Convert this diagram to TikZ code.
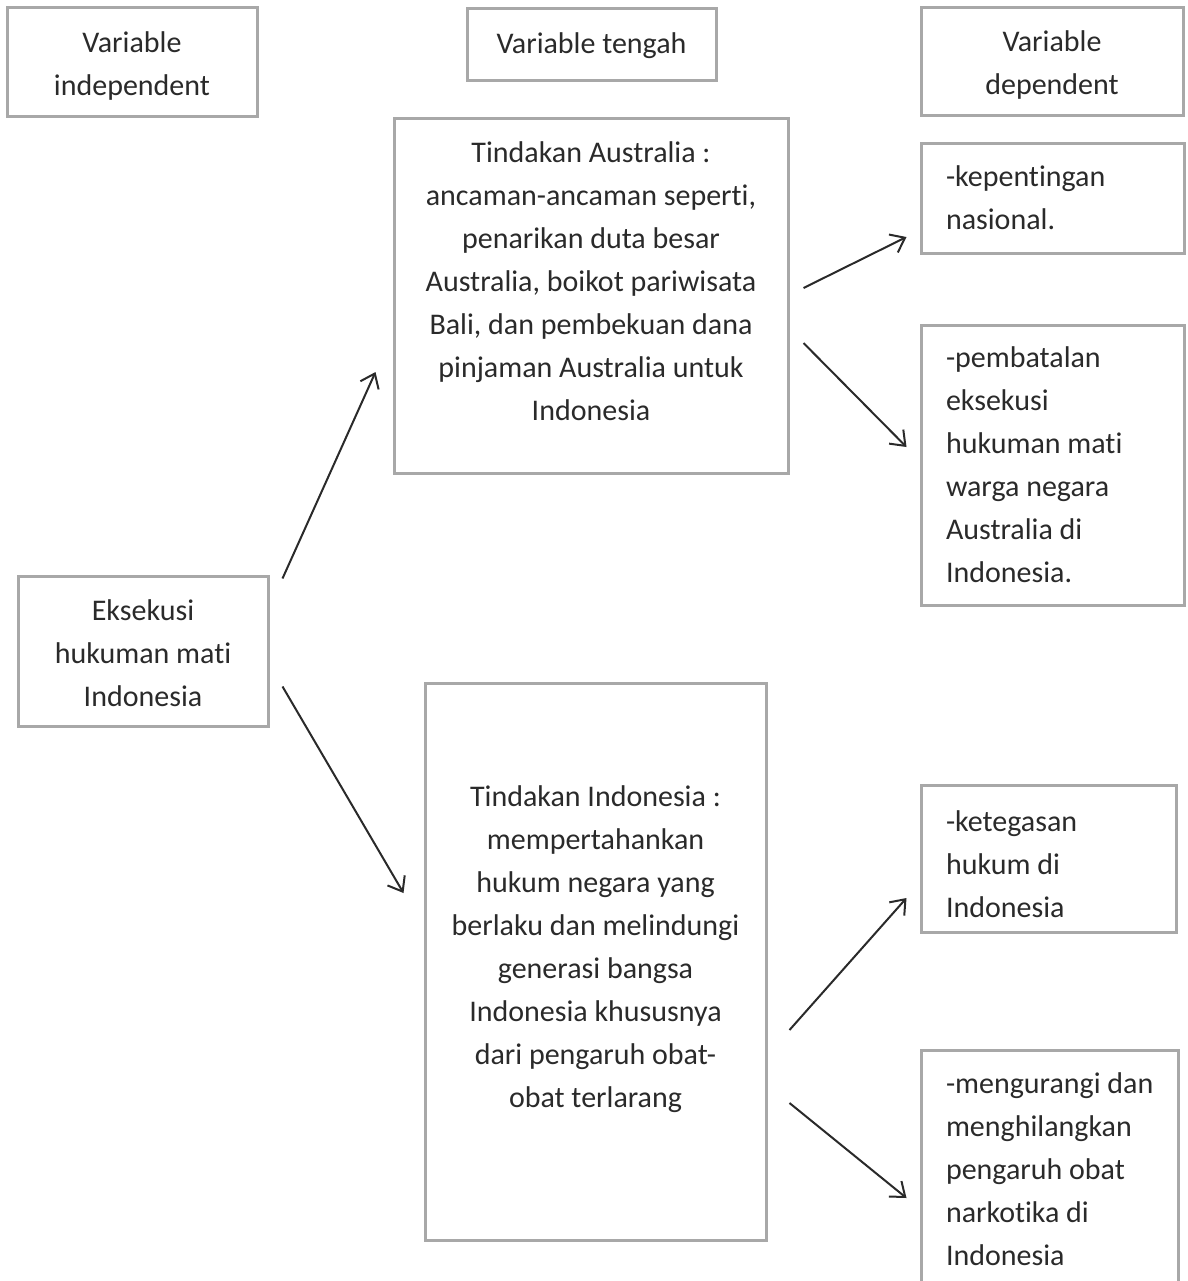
\documentclass[tikz,border=0pt]{standalone}
\usepackage{fontspec}
\setmainfont{Carlito}[Ligatures=CommonOff]
\usetikzlibrary{arrows.meta}
\newcommand{\txtdn}[1]{\rule{0pt}{#1}}
\newcommand{\txtup}[1]{\rule[-#1]{0pt}{#1}}
\begin{document}
\begin{tikzpicture}[x=0.5pt,y=-0.5pt]
  \definecolor{bxgray}{HTML}{A8A8A8}
  \definecolor{txgray}{HTML}{2A2A2A}
  \tikzset{
    box/.style={draw=bxgray, line width=1.5pt, text=txgray, inner sep=0pt,
      font=\fontsize{15}{21.5}\selectfont, align=center},
    lbox/.style={box, align=flush left, inner xsep=12.5pt},
    arr/.style={draw=txgray, line width=1pt, -{Straight Barb[length=6.5pt,width=10pt,line width=1pt]}}
  }
  \clip (0,0) rectangle (1188,1281);
  % headers
  \node[box, minimum width=125pt, minimum height=54.5pt] (varind) at (132,61.5) {\txtdn{14.5pt}Variable\\independent};
  \node[box, minimum width=124.5pt, minimum height=36pt] (vartgh) at (591.5,44) {\txtdn{12.5pt}Variable tengah};
  \node[box, minimum width=131pt, minimum height=54pt] (vardep) at (1052,61) {\txtdn{14.5pt}Variable\\dependent};
  % middle column
  \node[box, minimum width=197pt, minimum height=177.5pt] (aus) at (591,295.5)
    {Tindakan Australia :\\ancaman-ancaman seperti,\\penarikan duta besar\\Australia, boikot pariwisata\\Bali, dan pembekuan dana\\pinjaman Australia untuk\\Indonesia\txtup{14pt}};
  \node[box, minimum width=170.5pt, minimum height=278.5pt] (indo) at (595.5,961.5)
    {Tindakan Indonesia :\\mempertahankan\\hukum negara yang\\berlaku dan melindungi\\generasi bangsa\\Indonesia khususnya\\dari pengaruh obat-\\obat terlarang\txtup{15pt}};
  % left
  \node[box, minimum width=125pt, minimum height=75pt] (eks) at (143,651) {\txtdn{12.5pt}Eksekusi\\hukuman mati\\Indonesia};
  % right column
  \node[lbox, text width=106.5pt, minimum height=55pt] (kep) at (1052.5,198) {-kepentingan\\nasional.};
  \node[lbox, text width=106.5pt, minimum height=140pt] (pemb) at (1052.5,465)
    {-pembatalan\\eksekusi\\hukuman mati\\warga negara\\Australia di\\Indonesia.};
  \node[lbox, text width=102.5pt, minimum height=73.5pt] (teg) at (1048.5,858.5) {\txtdn{16.5pt}-ketegasan\\hukum di\\Indonesia};
  \node[lbox, text width=103.5pt, minimum height=119pt] (meng) at (1049.5,1169)
    {\mbox{-mengurangi dan}\\menghilangkan\\pengaruh obat\\narkotika di\\Indonesia};
  % arrows
  \draw[arr] ([shift={(13,4)}]eks.north east) -- ([shift={(-17,76.5)}]aus.west);
  \draw[arr] ([shift={(13,-41)}]eks.south east) -- ([shift={(-20,-68.5)}]indo.west);
  \draw[arr] ([shift={(14,-7.5)}]aus.east) -- ([shift={(-13,39)}]kep.west);
  \draw[arr] ([shift={(14,47.5)}]aus.east) -- ([shift={(-13,-18)}]pemb.west);
  \draw[arr] ([shift={(22,68.5)}]indo.east) -- ([shift={(-13,39.5)}]teg.west);
  \draw[arr] ([shift={(22,141.5)}]indo.east) -- ([shift={(-13,29)}]meng.west);
\end{tikzpicture}
\end{document}
